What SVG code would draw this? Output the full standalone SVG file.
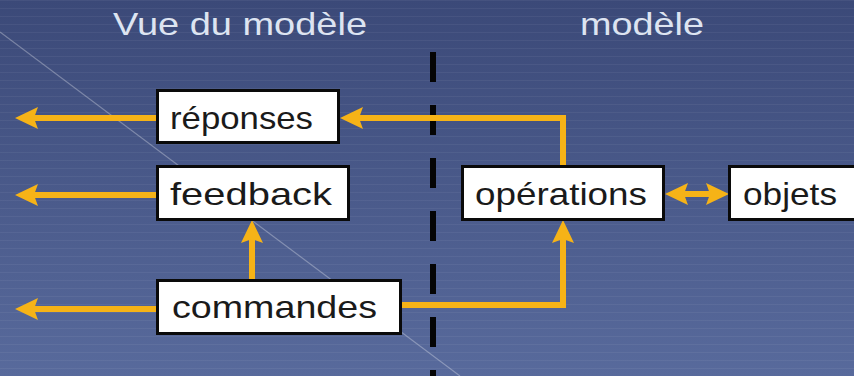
<svg xmlns="http://www.w3.org/2000/svg" width="854" height="376" viewBox="0 0 854 376">
  <defs>
    <linearGradient id="bg" x1="0" y1="0" x2="0" y2="1">
      <stop offset="0" stop-color="#3b4978"/>
      <stop offset="1" stop-color="#586a9c"/>
    </linearGradient>
    <pattern id="stripes" width="854" height="8" patternUnits="userSpaceOnUse">
      <rect x="0" y="0" width="854" height="1" fill="#ffffff" fill-opacity="0.05"/>
    </pattern>
    <marker id="ah" viewBox="0 -12 24 24" refX="11" refY="0" markerWidth="24" markerHeight="24" markerUnits="userSpaceOnUse" orient="auto-start-reverse">
      <path d="M0,-11 L23,0 L0,11 L4,0 Z" fill="#f6b317"/>
    </marker>
  </defs>
  <style>
    .box { fill: #ffffff; stroke: #0a0a0a; stroke-width: 3; }
    .lbl { font-family: "Liberation Sans", Arial, sans-serif; font-size: 32px; fill: #1a1a1a; }
    .title { font-family: "Liberation Sans", Arial, sans-serif; font-size: 32px; fill: #dde4f1; }
    .conn { fill: none; stroke: #f6b317; stroke-width: 6; }
    .arr { marker-end: url(#ah); }
  </style>
  <rect width="854" height="376" fill="url(#bg)"/>
  <rect width="854" height="376" fill="url(#stripes)"/>
  <line x1="0" y1="32" x2="460" y2="376" stroke="#ffffff" stroke-opacity="0.3" stroke-width="1.2"/>
  <line x1="433" y1="52" x2="433" y2="376" stroke="#050505" stroke-width="6" stroke-dasharray="30 23"/>

  <text class="title" x="113" y="35" textLength="254" lengthAdjust="spacingAndGlyphs">Vue du modèle</text>
  <text class="title" x="580" y="35" textLength="124" lengthAdjust="spacingAndGlyphs">modèle</text>

  <g id="connectors">
    <path class="conn arr" d="M157,118 H27"/>
    <path class="conn arr" d="M157,195 H27"/>
    <path class="conn arr" d="M157,309 H27"/>
    <path class="conn arr" d="M563,166 V118 H352"/>
    <path class="conn arr" d="M401,305 H563 V232"/>
    <path class="conn arr" d="M252,280 V232"/>
    <path class="conn" d="M677,194 H717" marker-start="url(#ah)" marker-end="url(#ah)"/>
  </g>

  <g id="reponses">
    <rect class="box" x="157.5" y="90.5" width="181" height="52"/>
    <text class="lbl" x="170" y="129" textLength="143" lengthAdjust="spacingAndGlyphs">réponses</text>
  </g>
  <g id="feedback">
    <rect class="box" x="157.5" y="166.5" width="191" height="53"/>
    <text class="lbl" x="170" y="205" textLength="162" lengthAdjust="spacingAndGlyphs">feedback</text>
  </g>
  <g id="commandes">
    <rect class="box" x="157.5" y="280.5" width="243" height="53"/>
    <text class="lbl" x="172" y="318" textLength="205" lengthAdjust="spacingAndGlyphs">commandes</text>
  </g>
  <g id="operations">
    <rect class="box" x="462.5" y="166.5" width="201" height="53"/>
    <text class="lbl" x="475" y="205" textLength="172" lengthAdjust="spacingAndGlyphs">opérations</text>
  </g>
  <g id="objets">
    <rect class="box" x="729.5" y="166.5" width="140" height="53"/>
    <text class="lbl" x="743" y="205" textLength="94" lengthAdjust="spacingAndGlyphs">objets</text>
  </g>
</svg>
